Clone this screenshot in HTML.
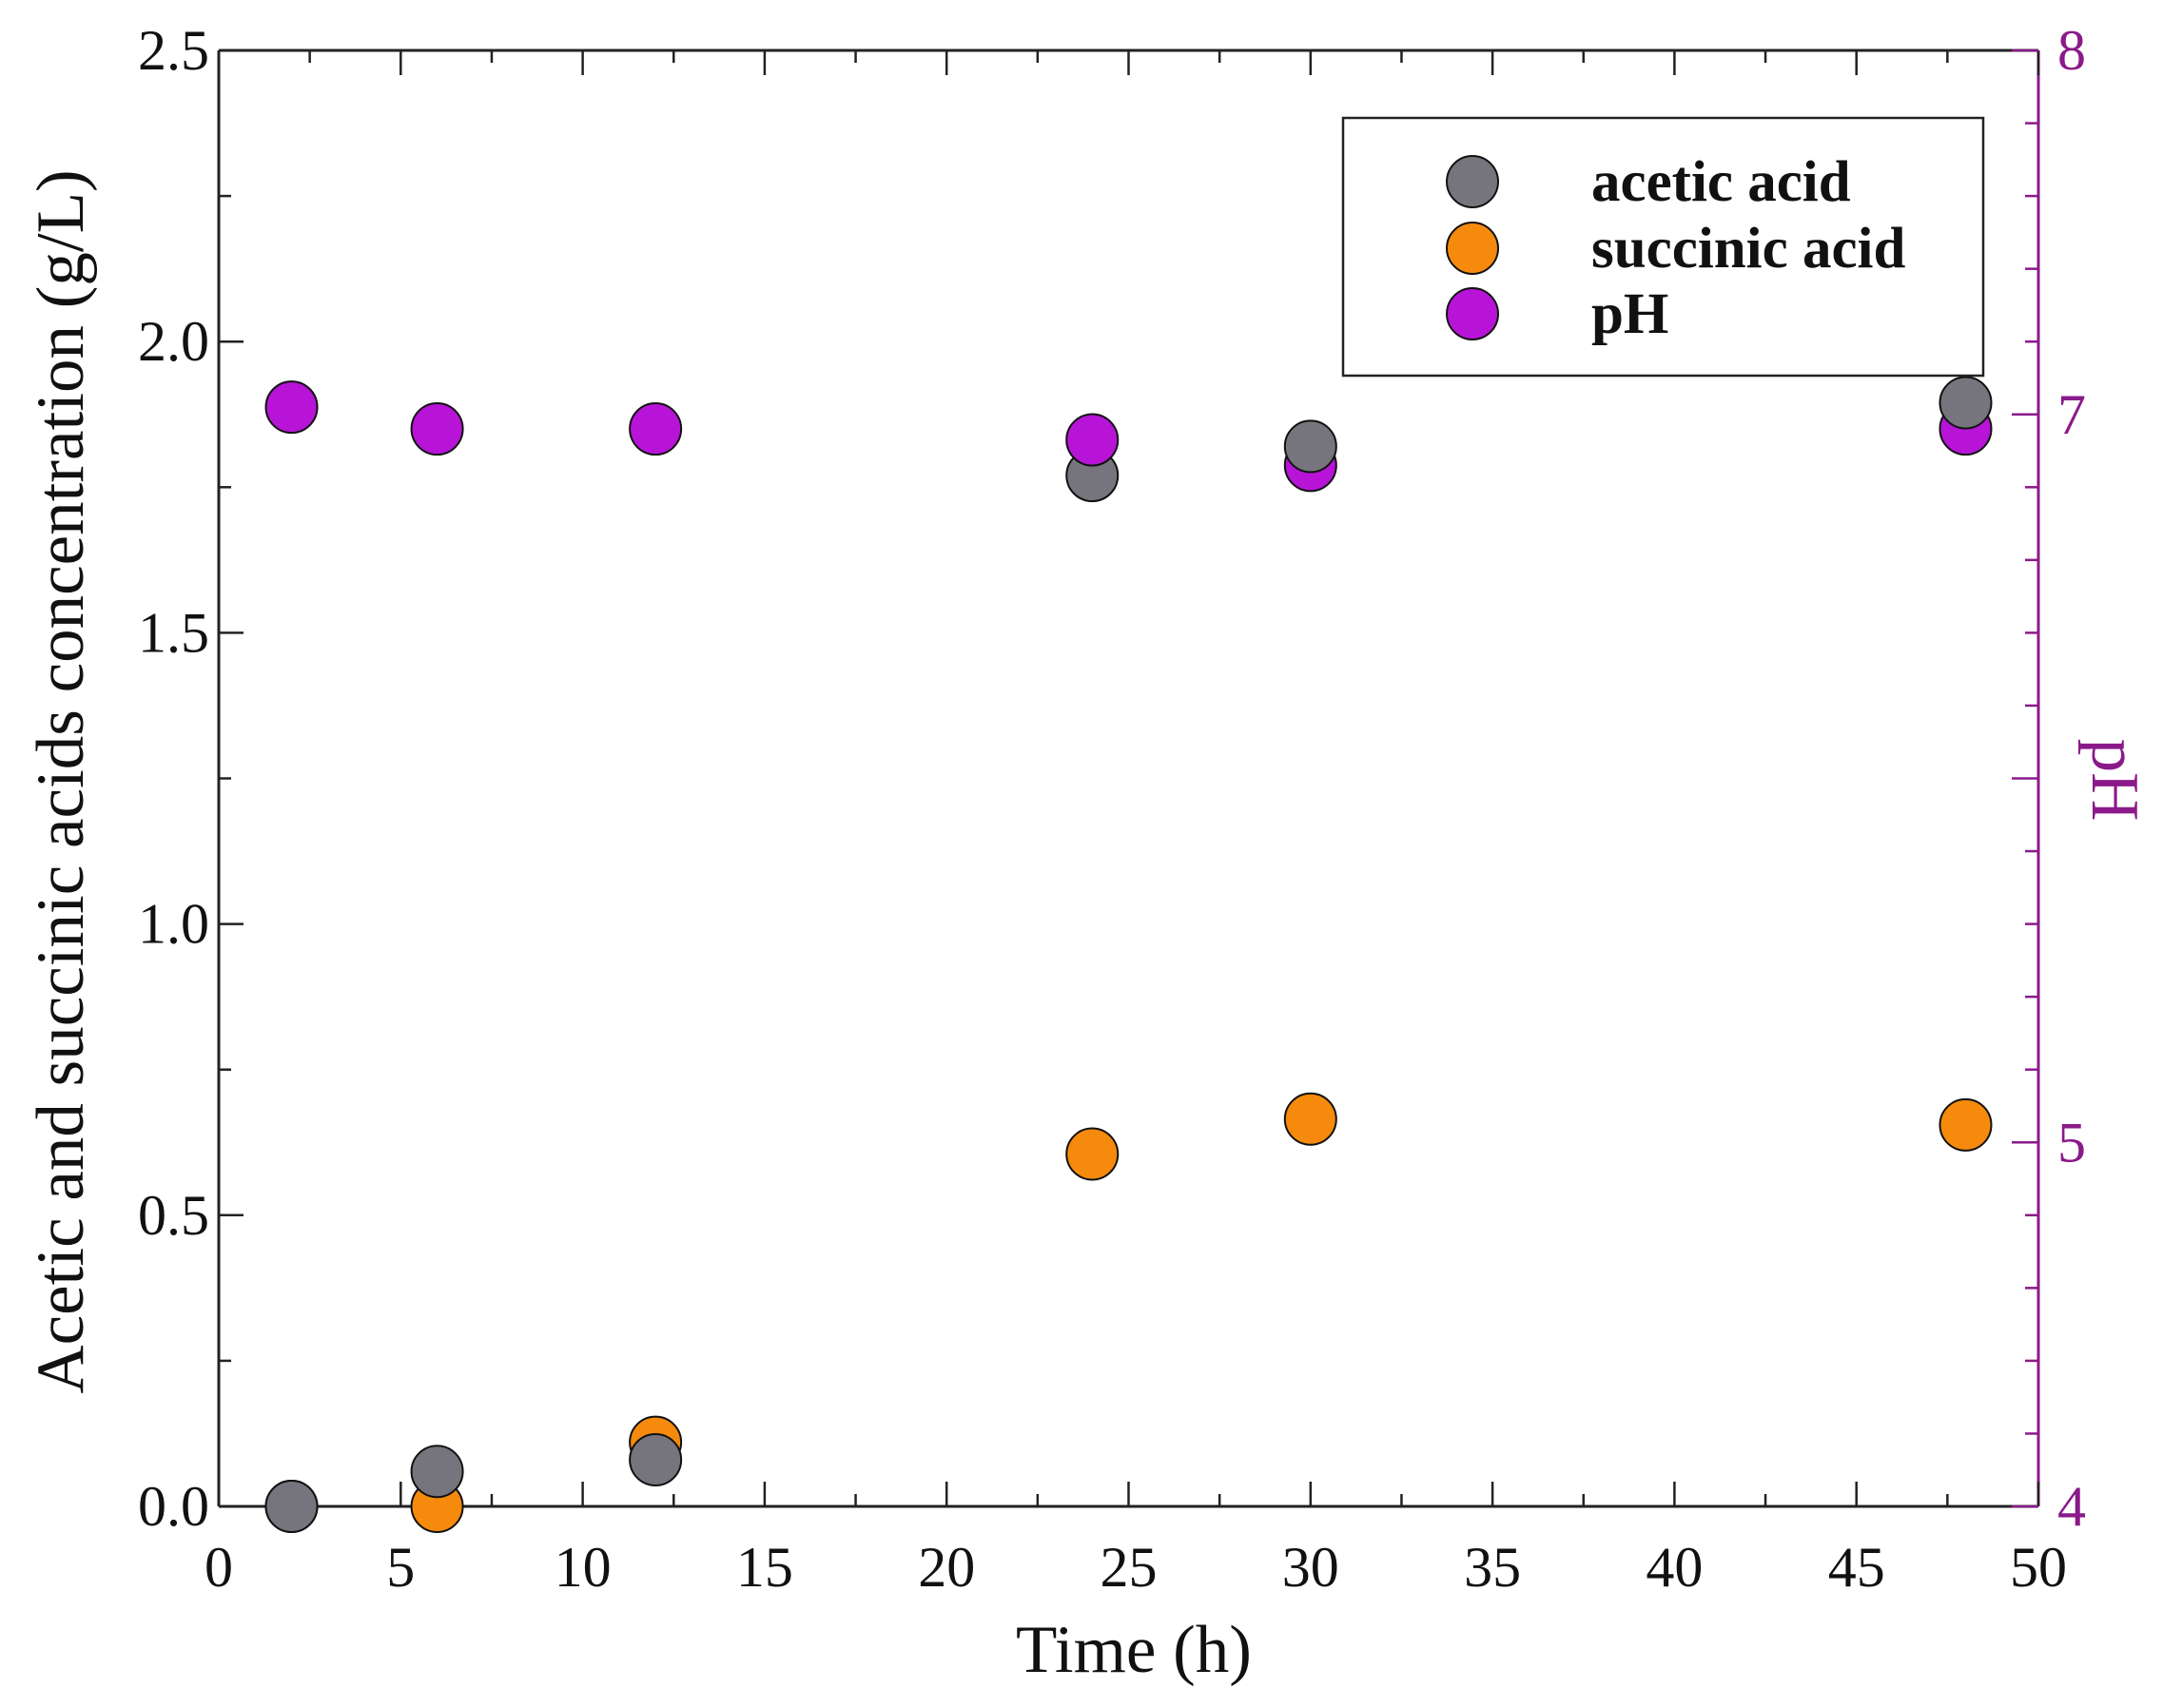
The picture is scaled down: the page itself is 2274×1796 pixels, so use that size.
<!DOCTYPE html>
<html><head><meta charset="utf-8"><style>
body{margin:0;background:#fff}
svg text{font-family:"Liberation Serif",serif}
</style></head><body>
<svg id="c" width="2274" height="1791" viewBox="0 0 2274 1791" xmlns="http://www.w3.org/2000/svg"></svg>
<script>
const times=[2,6,12,24,30,48];
const acetic=[0,0.06,0.08,1.77,1.82,1.895];
const succinic=[0,0,0.11,0.605,0.665,0.655];
const ph=[7.02,6.96,6.96,6.93,6.86,6.96];
const xTicks=[0,5,10,15,20,25,30,35,40,45,50];
const yTicks=[0,0.5,1,1.5,2,2.5];
const yTickLabels=["0.0","0.5","1.0","1.5","2.0","2.5"];
const phTicks=[4,5,7,8];
const phTickLabels=["4","5","7","8"];
const L=230,R=2143,T=53,B=1584;
const X=v=>L+(R-L)*v/50;
const Y=v=>B-(B-T)*v/2.5;
const P=v=>B-(B-T)*(v-4)/4;
const NS="http://www.w3.org/2000/svg";
const svg=document.getElementById('c');
function el(t,a,txt){const e=document.createElementNS(NS,t);for(const k in a)e.setAttribute(k,a[k]);if(txt!==undefined)e.textContent=txt;svg.appendChild(e);return e;}
const PUR="#8a1a8a";
let e=el('line',{x1:L,y1:B,x2:R,y2:B,stroke:'#222','stroke-width':3});

e=el('line',{x1:L,y1:T,x2:R,y2:T,stroke:'#222','stroke-width':3});

e=el('line',{x1:L,y1:T,x2:L,y2:B,stroke:'#222','stroke-width':3});

e=el('line',{x1:R,y1:T,x2:R,y2:B,stroke:PUR,'stroke-width':3});

for(let v=0;v<=50;v+=2.5){const major=v%5===0;const len=major?26:13;
 el('line',{x1:X(v),y1:B,x2:X(v),y2:B-len,stroke:'#222','stroke-width':2.5});
 el('line',{x1:X(v),y1:T,x2:X(v),y2:T+len,stroke:'#222','stroke-width':2.5});}
xTicks.forEach(v=>{e=el('text',{x:X(v),y:B+84,'font-size':60,'text-anchor':'middle',fill:'#111'},String(v));
 });
for(let v=0;v<=2.5001;v+=0.25){const major=Math.abs(v*2-Math.round(v*2))<1e-6;const len=major?26:13;
 el('line',{x1:L,y1:Y(v),x2:L+len,y2:Y(v),stroke:'#222','stroke-width':2.5});}
yTicks.forEach((v,i)=>{e=el('text',{x:L-10,y:Y(v)+20,'font-size':60,'text-anchor':'end',fill:'#111'},yTickLabels[i]);
 });
for(let v=4;v<=8.001;v+=0.2){const major=Math.abs(v-Math.round(v))<1e-6;const len=major?28:14;
 el('line',{x1:R,y1:P(v),x2:R-len,y2:P(v),stroke:PUR,'stroke-width':2.5});}
phTicks.forEach((v,i)=>{e=el('text',{x:R+20,y:P(v)+20,'font-size':60,fill:PUR},phTickLabels[i]);
 });
e=el('text',{x:1192,y:1758,'font-size':71,'text-anchor':'middle',fill:'#111'},'Time (h)');

e=el('text',{x:0,y:0,'font-size':71,'text-anchor':'middle',fill:'#111',transform:'translate(87,822) rotate(-90)'},'Acetic and succinic acids concentration (g/L)');

e=el('text',{x:0,y:0,'font-size':71,'text-anchor':'middle',fill:PUR,transform:'translate(2200,820) rotate(90)'},'pH');

const RAD=27;
function pt(cx,cy,fill,name){const c=el('circle',{cx:cx,cy:cy,r:RAD,fill:fill,stroke:'#111','stroke-width':2});
 }
times.forEach((t,i)=>pt(X(t),Y(succinic[i]),'#f58a0c','succinic-point'));
times.forEach((t,i)=>{if(t!==24)pt(X(t),P(ph[i]),'#b814d8','ph-point');});
times.forEach((t,i)=>pt(X(t),Y(acetic[i]),'#76757d','acetic-point'));
times.forEach((t,i)=>{if(t===24)pt(X(t),P(ph[i]),'#b814d8','ph-point');});
e=el('rect',{x:1412,y:124,width:673,height:271,fill:'#fff',stroke:'#222','stroke-width':2.5});

const leg=[['acetic acid','#76757d',191],['succinic acid','#f58a0c',261],['pH','#b814d8',330]];
leg.forEach(l=>{pt(1548,l[2],l[1],'legend-marker');
 e=el('text',{x:1673,y:l[2]+20,'font-size':61,'font-weight':'bold',fill:'#111'},l[0]);
 });
</script>
</body></html>
